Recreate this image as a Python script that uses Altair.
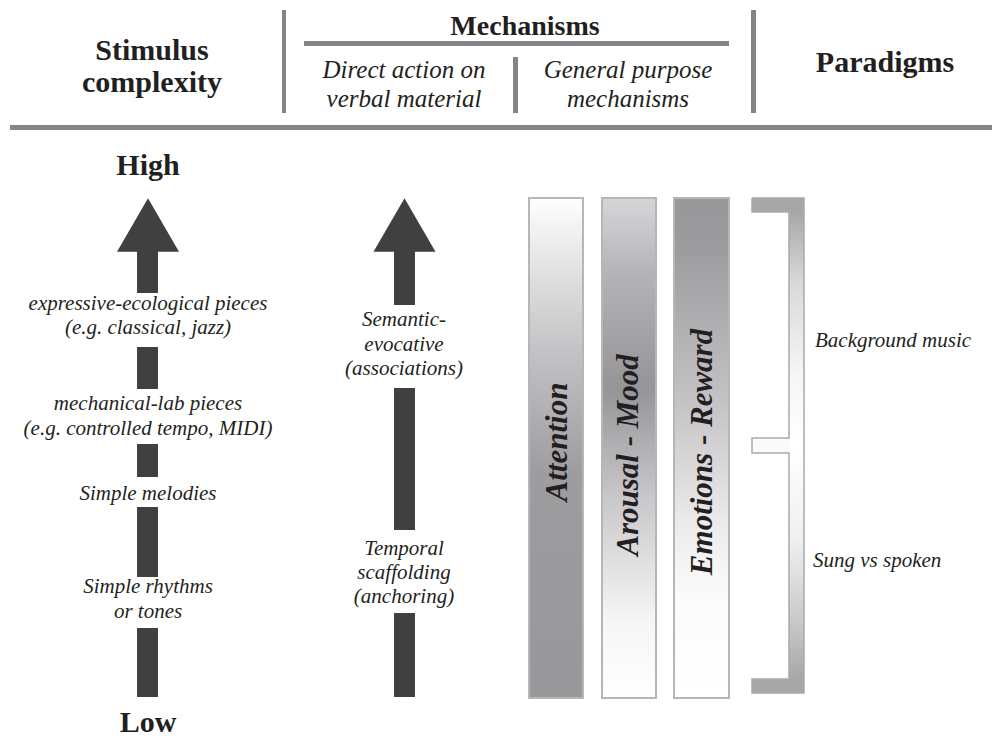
import altair as alt
import pandas as pd

# ---------------- content ----------------
FONT = "Liberation Serif, Times New Roman, DejaVu Serif, serif"
INK = "#231f20"
LINE = "#848589"
ARROW = "#404041"

header_bold = ["Stimulus", "complexity", "Mechanisms", "Paradigms"]
header_italic = ["Direct action on", "verbal material", "General purpose", "mechanisms"]
level_labels = ["High", "Low"]

stimulus_labels = ["expressive-ecological pieces", "(e.g. classical, jazz)",
                   "mechanical-lab pieces", "(e.g. controlled tempo, MIDI)",
                   "Simple melodies", "Simple rhythms", "or tones"]
direct_labels = ["Semantic-", "evocative", "(associations)",
                 "Temporal", "scaffolding", "(anchoring)"]
general_labels = ["Attention", "Arousal - Mood", "Emotions - Reward"]
paradigm_labels = ["Background music", "Sung vs spoken"]

# ---------------- layout (page pixels) ----------------
W, H = 984, 730
xs = alt.Scale(domain=[8, 8 + W])
ys = alt.Scale(domain=[8, 8 + H], reverse=True)

header_bold_x = [152, 152, 525, 885]
header_bold_y = [60, 92, 35, 72]
header_bold_size = [30, 30, 28, 30]
header_italic_x = [404, 404, 628, 628]
header_italic_y = [78, 107, 78, 107]
level_x = [148, 148]
level_y = [175, 732]

stim_x = 148
stim_y = [310, 334, 410, 435, 500, 593, 618]
direct_x = 404
direct_y = [326, 351, 375, 555, 579, 603]
paradigm_x = [815, 813]
paradigm_y = [347, 567]

# header separator rules: x1, x2, y1, y2
rule_x1 = [282, 751, 513, 304, 10]
rule_x2 = [286, 756, 518, 729, 1000]
rule_y1 = [10, 10, 57, 41, 125]
rule_y2 = [113, 113, 113, 46, 130]

# arrow shafts
stim_seg_top = [250, 347, 444, 507, 628]
stim_seg_bot = [293, 389, 477, 577, 697]
direct_seg_top = [250, 388, 613]
direct_seg_bot = [305, 530, 697]
arrow_heads_x = [148, 404.5]

# gradient bars
bar_x1 = [529, 602, 674]
bar_x2 = [583, 656, 729]
bar_top, bar_bot = 198, 698
bar_text_x = [567, 638, 712]
bar_text_y = [442, 455, 452]
bar_stops = [
    [("#ffffff", 0.0), ("#f2f2f2", 0.06), ("#c4c4c6", 0.3), ("#9d9da0", 0.55), ("#98989b", 1.0)],
    [("#d6d6d8", 0.0), ("#b4b4b6", 0.15), ("#959598", 0.38), ("#c8c8ca", 0.6), ("#f6f6f6", 0.85), ("#ffffff", 1.0)],
    [("#98989b", 0.0), ("#9c9c9f", 0.1), ("#c2c2c4", 0.4), ("#ebebeb", 0.65), ("#fbfbfb", 0.8), ("#ffffff", 1.0)],
]

# bracket
br_outline_x = [752, 804, 804, 752, 752, 789, 789, 752, 752, 789, 789, 752, 752]
br_outline_y = [198, 198, 693, 693, 679, 679, 453, 453, 438, 438, 212, 212, 198]


def rect_layer(df, **mark):
    return alt.Chart(df).mark_rect(**mark).encode(
        x=alt.X("x1:Q", scale=xs, axis=None), x2="x2:Q",
        y=alt.Y("y1:Q", scale=ys, axis=None), y2="y2:Q")


def text_layer(df, **mark):
    enc = dict(x=alt.X("x:Q", scale=xs, axis=None),
               y=alt.Y("y:Q", scale=ys, axis=None),
               text="t:N")
    if "s" in df.columns:
        enc["size"] = alt.Size("s:Q", scale=None, legend=None)
    return alt.Chart(df).mark_text(font=FONT, color=INK, **mark).encode(**enc)


def grad(stops):
    return alt.LinearGradient(
        gradient="linear", x1=0, x2=0, y1=0, y2=1,
        stops=[alt.GradientStop(color=c, offset=o) for c, o in stops])


layers = []

# header rules
layers.append(rect_layer(pd.DataFrame({"x1": rule_x1, "x2": rule_x2, "y1": rule_y1, "y2": rule_y2}),
                         color=LINE))

# header texts
layers.append(text_layer(pd.DataFrame({"t": header_bold, "x": header_bold_x, "y": header_bold_y,
                                       "s": header_bold_size}),
                         fontWeight="bold", align="center", baseline="alphabetic"))
layers.append(text_layer(pd.DataFrame({"t": header_italic, "x": header_italic_x, "y": header_italic_y}),
                         fontSize=25, fontStyle="italic", align="center", baseline="alphabetic"))
layers.append(text_layer(pd.DataFrame({"t": level_labels, "x": level_x, "y": level_y}),
                         fontSize=30, fontWeight="bold", align="center", baseline="alphabetic"))

# arrow shafts
shafts = pd.DataFrame({
    "x1": [137] * len(stim_seg_top) + [394] * len(direct_seg_top),
    "x2": [158] * len(stim_seg_top) + [415] * len(direct_seg_top),
    "y1": stim_seg_top + direct_seg_top,
    "y2": stim_seg_bot + direct_seg_bot,
})
layers.append(rect_layer(shafts, color=ARROW))

# arrow heads
layers.append(alt.Chart(pd.DataFrame({"x": arrow_heads_x, "y": [225, 225]})).mark_point(
    shape="triangle-up", filled=True, size=3844, color=ARROW, opacity=1, strokeWidth=0).encode(
    x=alt.X("x:Q", scale=xs, axis=None), y=alt.Y("y:Q", scale=ys, axis=None)))

# arrow labels
layers.append(text_layer(pd.DataFrame({"t": stimulus_labels, "x": [stim_x] * len(stimulus_labels), "y": stim_y}),
                         fontSize=21, fontStyle="italic", align="center", baseline="alphabetic"))
layers.append(text_layer(pd.DataFrame({"t": direct_labels, "x": [direct_x] * len(direct_labels), "y": direct_y}),
                         fontSize=21, fontStyle="italic", align="center", baseline="alphabetic"))

# gradient bars
for i in range(3):
    layers.append(rect_layer(
        pd.DataFrame({"x1": [bar_x1[i]], "x2": [bar_x2[i]], "y1": [bar_top], "y2": [bar_bot]}),
        fill=grad(bar_stops[i]), stroke="#b6b6b9", strokeWidth=2))

layers.append(text_layer(pd.DataFrame({"t": general_labels, "x": bar_text_x, "y": bar_text_y}),
                         fontSize=31, fontWeight="bold", fontStyle="italic", angle=270,
                         align="center", baseline="alphabetic"))

# bracket pieces
br_grad = grad([("#a6a6a9", 0.0), ("#d8d8da", 0.15), ("#f6f6f6", 0.35), ("#ffffff", 0.5),
                ("#f0f0f0", 0.7), ("#c8c8ca", 0.88), ("#a6a6a9", 1.0)])
layers.append(rect_layer(pd.DataFrame({"x1": [752, 752], "x2": [804, 804], "y1": [198, 679], "y2": [212, 693]}),
                         color="#a7a7aa"))
layers.append(rect_layer(pd.DataFrame({"x1": [789], "x2": [804], "y1": [211], "y2": [680]}),
                         fill=br_grad))
layers.append(rect_layer(pd.DataFrame({"x1": [752], "x2": [790], "y1": [438], "y2": [453]}),
                         color="#fafafa"))
layers.append(alt.Chart(pd.DataFrame({"x": br_outline_x, "y": br_outline_y,
                                      "o": list(range(len(br_outline_x)))})).mark_line(
    color="#a9a9ac", strokeWidth=1.5).encode(
    x=alt.X("x:Q", scale=xs, axis=None), y=alt.Y("y:Q", scale=ys, axis=None), order="o:Q"))

# paradigm labels
layers.append(text_layer(pd.DataFrame({"t": paradigm_labels, "x": paradigm_x, "y": paradigm_y}),
                         fontSize=21, fontStyle="italic", align="left", baseline="alphabetic"))

chart = alt.layer(*layers).properties(
    width=W, height=H, padding=0, autosize="none", background="white"
).configure_view(strokeWidth=0)

chart.save("out.html", embed_options={"renderer": "svg", "actions": False})
